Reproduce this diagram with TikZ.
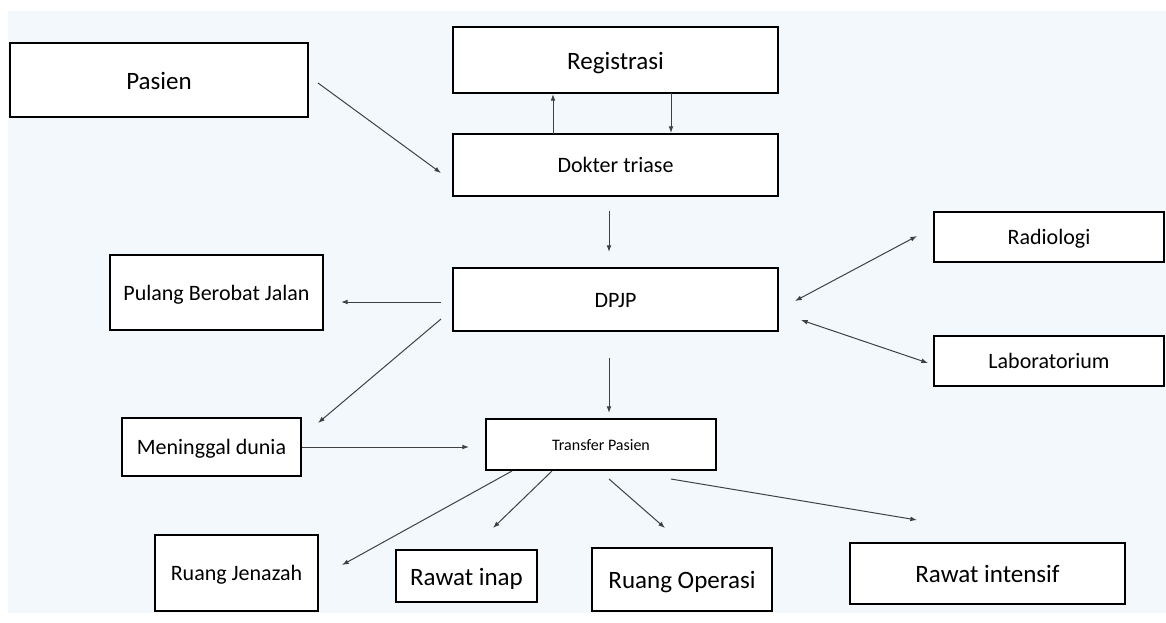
\documentclass[tikz,border=0pt]{standalone}
\usepackage{fontspec}
\setmainfont{Carlito}
\usetikzlibrary{arrows.meta}
\definecolor{bgblue}{HTML}{F3F8FC}
\definecolor{arrowgray}{HTML}{404040}
\begin{document}
\begin{tikzpicture}[x=0.75pt,y=-0.75pt,
  box/.style={draw=black,line width=1.5pt,fill=white,inner sep=0pt,align=center},
  big/.style={font=\fontsize{18.75}{22}\selectfont,text height=16.9pt,text depth=3.4pt},
  mid/.style={font=\fontsize{16.5}{20}\selectfont,text height=14.85pt,text depth=2.97pt},
  small/.style={font=\fontsize{12}{14}\selectfont,text height=10.8pt,text depth=2.16pt},
  conn/.style={draw=arrowgray,line width=0.75pt,-{Latex[length=5pt,width=3.6pt]}},
  biconn/.style={draw=arrowgray,line width=0.75pt,{Latex[length=5pt,width=3.6pt]}-{Latex[length=5pt,width=3.6pt]}}]
\def\u{0.75pt}
\useasboundingbox (0,0) rectangle (1166,622);
\fill[white] (0,0) rectangle (1166,622);
\fill[bgblue] (8,11) rectangle (1166,613);

\node[box,big,minimum width=298*\u,minimum height=74*\u] (pasien) at (159,80) {Pasien};
\node[box,big,minimum width=325*\u,minimum height=66*\u] (reg) at (615.5,60) {Registrasi};
\node[box,mid,minimum width=325*\u,minimum height=62*\u] (dok) at (615.5,165) {Dokter triase};
\node[box,mid,minimum width=325*\u,minimum height=63*\u] (dpjp) at (615.5,299.5) {DPJP};
\node[box,mid,minimum width=230*\u,minimum height=50*\u] (rad) at (1049,237) {Radiologi};
\node[box,mid,minimum width=230*\u,minimum height=50*\u] (lab) at (1049,361) {Laboratorium};
\node[box,mid,minimum width=213*\u,minimum height=75*\u] (pulang) at (216.5,292.5) {Pulang Berobat Jalan};
\node[box,mid,minimum width=179*\u,minimum height=58*\u] (men) at (211.5,447) {Meninggal dunia};
\node[box,small,minimum width=230*\u,minimum height=51*\u] (trans) at (601,444.5) {Transfer Pasien};
\node[box,mid,minimum width=163*\u,minimum height=76*\u] (jen) at (236.5,573) {Ruang Jenazah};
\node[box,big,minimum width=141*\u,minimum height=52*\u] (inap) at (466.5,576) {Rawat inap};
\node[box,big,minimum width=180*\u,minimum height=63*\u] (op) at (682,579.5) {Ruang Operasi};
\node[box,big,minimum width=275*\u,minimum height=61*\u] (int) at (987.5,573.5) {Rawat intensif};

% connector end points
\coordinate (pasienOut) at (318,83);
\coordinate (dokIn) at (441,173);
\coordinate (dokUp) at (553,134);
\coordinate (regUpIn) at (553,94);
\coordinate (regDown) at (671,93);
\coordinate (dokDownIn) at (671,133);
\coordinate (dokOut) at (609,211);
\coordinate (dpjpIn) at (609,252);
\coordinate (dpjpL1) at (441,302);
\coordinate (pulangIn) at (341,302);
\coordinate (dpjpL2) at (441,319);
\coordinate (menIn) at (318,423);
\coordinate (dpjpR1) at (795,301);
\coordinate (radIn) at (917,236);
\coordinate (dpjpR2) at (801,320);
\coordinate (labIn) at (928,363);
\coordinate (dpjpOut) at (609,358);
\coordinate (transIn) at (609,413);
\coordinate (menOut) at (302,447);
\coordinate (transInL) at (469,447);
\coordinate (transO1) at (512,471);
\coordinate (jenIn) at (342,565);
\coordinate (transO2) at (552,471);
\coordinate (inapIn) at (493,528);
\coordinate (transO3) at (609,479);
\coordinate (opIn) at (665,528);
\coordinate (transO4) at (671,479);
\coordinate (intIn) at (917,520);

\draw[conn] (pasienOut) -- (dokIn);
\draw[conn] (dokUp) -- (regUpIn);
\draw[conn] (regDown) -- (dokDownIn);
\draw[conn] (dokOut) -- (dpjpIn);
\draw[conn] (dpjpL1) -- (pulangIn);
\draw[conn] (dpjpL2) -- (menIn);
\draw[biconn] (dpjpR1) -- (radIn);
\draw[biconn] (dpjpR2) -- (labIn);
\draw[conn] (dpjpOut) -- (transIn);
\draw[conn] (menOut) -- (transInL);
\draw[conn] (transO1) -- (jenIn);
\draw[conn] (transO2) -- (inapIn);
\draw[conn] (transO3) -- (opIn);
\draw[conn] (transO4) -- (intIn);
\end{tikzpicture}
\end{document}
